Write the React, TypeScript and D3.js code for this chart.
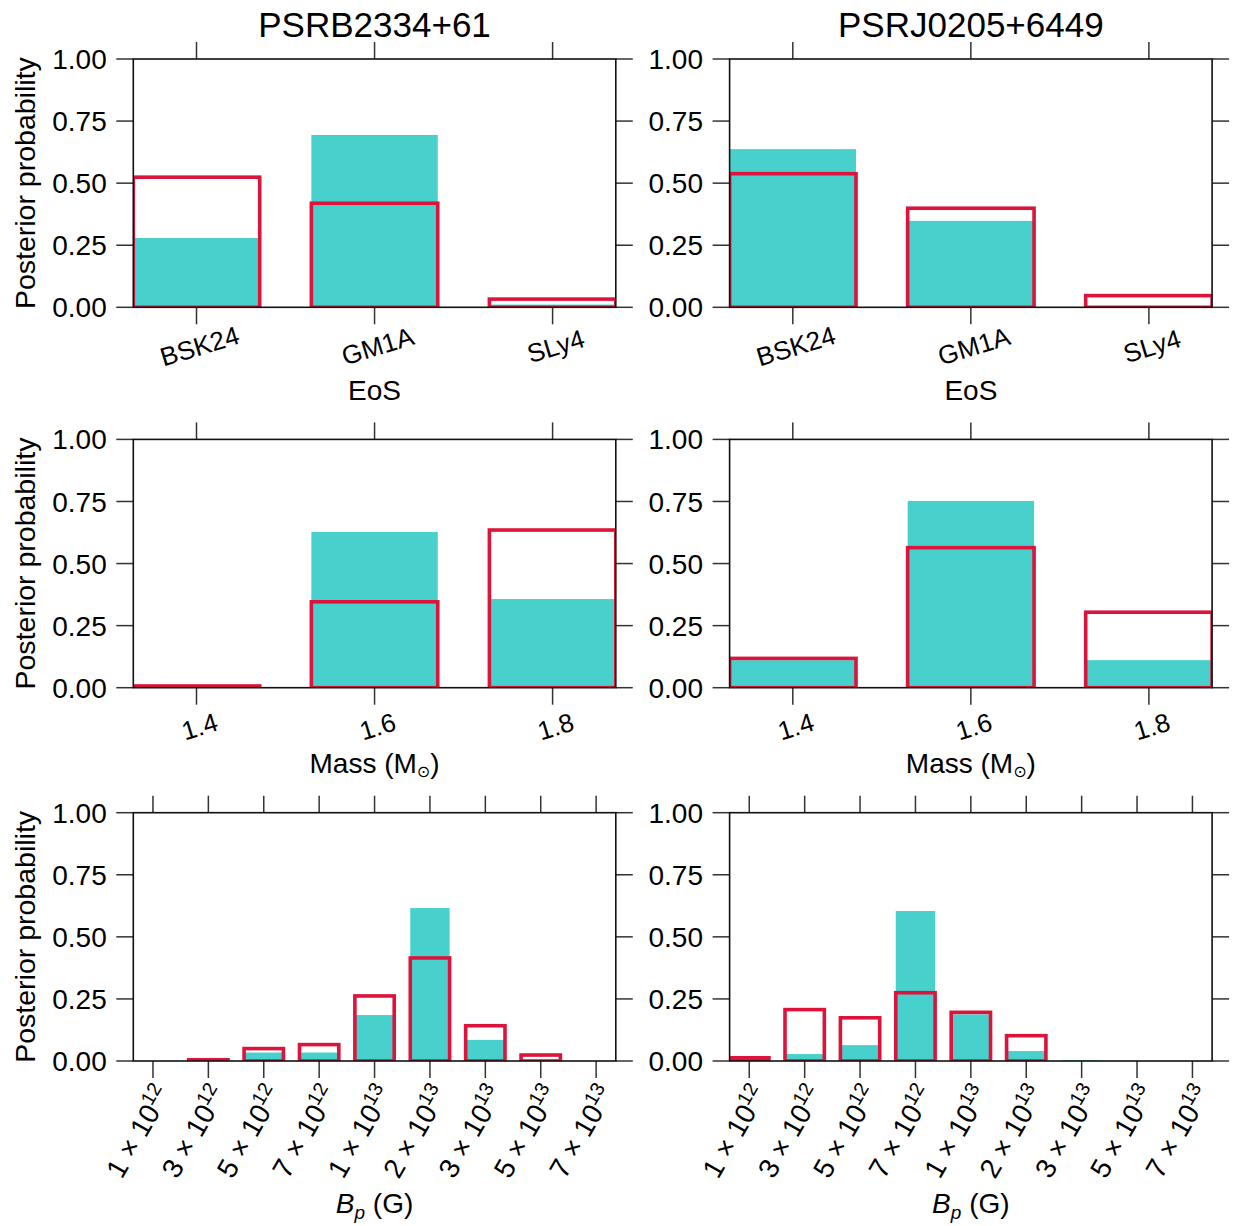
import React from 'react';
import * as d3 from 'd3';

// Posterior probabilities for two pulsars: filled bars and outlined bars per parameter bin
const pulsarNames = ['PSRB2334+61', 'PSRJ0205+6449'];

const eosCategories = ['BSK24', 'GM1A', 'SLy4'];
const massCategories = ['1.4', '1.6', '1.8'];
const bpMantissa = ['1', '3', '5', '7', '1', '2', '3', '5', '7'];
const bpExponent = ['12', '12', '12', '12', '13', '13', '13', '13', '13'];

const eosFilledB2334 = [0.279, 0.694, 0.011];
const eosOutlineB2334 = [0.524, 0.419, 0.033];
const eosFilledJ0205 = [0.637, 0.348, 0.002];
const eosOutlineJ0205 = [0.538, 0.399, 0.047];

const massFilledB2334 = [0.0, 0.627, 0.357];
const massOutlineB2334 = [0.007, 0.346, 0.635];
const massFilledJ0205 = [0.111, 0.752, 0.111];
const massOutlineJ0205 = [0.118, 0.564, 0.304];

const bpFilledB2334 = [0, 0.012, 0.034, 0.034, 0.185, 0.616, 0.085, 0.003, 0];
const bpOutlineB2334 = [0, 0.005, 0.05, 0.066, 0.262, 0.415, 0.142, 0.024, 0];
const bpFilledJ0205 = [0.002, 0.028, 0.064, 0.604, 0.188, 0.04, 0.003, 0, 0];
const bpOutlineJ0205 = [0.013, 0.207, 0.174, 0.275, 0.196, 0.102, 0, 0, 0];

const yTicks = [0, 0.25, 0.5, 0.75, 1];

const TEAL = '#48D1CC';
const CRIMSON = '#DC143C';
const FONT = '"Liberation Sans", Arial, Helvetica, sans-serif';

const WIDTH = 1233;
const HEIGHT = 1226;
const colX = [133.3, 729.6];
const rowY = [59, 439.4, 812.7];
const PW = 482.5;
const PH = 248.3;
const BAR_W = 0.71;
const TICK = 17;

type PanelProps = {
  row: number;
  col: number;
  n: number;
  filled: number[];
  outline: number[];
};

function TickLabel({ row, i, x }: { row: number; i: number; x: number }) {
  if (row === 0 || row === 1) {
    const label = row === 0 ? eosCategories[i] : massCategories[i];
    return (
      <text
        transform={`translate(${x + 3},${PH + 38.5}) rotate(-17)`}
        textAnchor="middle"
        dy="0.36em"
        fontSize={26}
      >
        {label}
      </text>
    );
  }
  return (
    <text
      transform={`translate(${x + 19},${PH + 32}) rotate(-60)`}
      textAnchor="end"
      fontSize={28}
    >
      {bpMantissa[i]} × 10
      <tspan fontSize={19.6} dy={-11}>
        {bpExponent[i]}
      </tspan>
    </text>
  );
}

function AxisLabel({ row }: { row: number }) {
  if (row === 0) {
    return (
      <text x={PW / 2} y={PH + 93} textAnchor="middle" fontSize={28}>
        EoS
      </text>
    );
  }
  if (row === 1) {
    return (
      <text x={PW / 2} y={PH + 85.5} textAnchor="middle" fontSize={28}>
        Mass (M
        <tspan fontSize={16} dy={4} fontFamily='"DejaVu Sans", sans-serif'>
          ⊙
        </tspan>
        <tspan dy={-4}>)</tspan>
      </text>
    );
  }
  return (
    <text x={PW / 2} y={PH + 152} textAnchor="middle" fontSize={28}>
      <tspan fontStyle="italic">B</tspan>
      <tspan fontStyle="italic" fontSize={19} dy={6}>
        p
      </tspan>
      <tspan dy={-6}> (G)</tspan>
    </text>
  );
}

function Panel({ row, col, n, filled, outline }: PanelProps) {
  const xs = d3
    .scaleLinear()
    .domain([1 - BAR_W / 2, n + BAR_W / 2])
    .range([0, PW]);
  const ys = d3.scaleLinear().domain([0, 1]).range([PH, 0]);
  const cats = d3.range(1, n + 1);
  const clipId = `clip-${row}-${col}`;

  return (
    <g transform={`translate(${colX[col]},${rowY[row]})`}>
      <defs>
        <clipPath id={clipId}>
          <rect x={0} y={0} width={PW} height={PH} />
        </clipPath>
      </defs>
      <g clipPath={`url(#${clipId})`}>
        {filled.map((v, i) =>
          v > 0 ? (
            <rect
              key={`f${i}`}
              x={xs(cats[i] - BAR_W / 2)}
              width={xs(cats[i] + BAR_W / 2) - xs(cats[i] - BAR_W / 2)}
              y={ys(v)}
              height={ys(0) - ys(v)}
              fill={TEAL}
            />
          ) : null
        )}
        {outline.map((v, i) =>
          v > 0 ? (
            <rect
              key={`o${i}`}
              x={xs(cats[i] - BAR_W / 2)}
              width={xs(cats[i] + BAR_W / 2) - xs(cats[i] - BAR_W / 2)}
              y={ys(v)}
              height={ys(0) - ys(v)}
              fill="none"
              stroke={CRIMSON}
              strokeWidth={3.6}
            />
          ) : null
        )}
      </g>
      {/* ticks on all four sides, pointing outward */}
      <g stroke="#333" strokeWidth={1.5}>
        {yTicks.map((t) => (
          <g key={`yt${t}`}>
            <line x1={-TICK} x2={0} y1={ys(t)} y2={ys(t)} />
            <line x1={PW} x2={PW + TICK} y1={ys(t)} y2={ys(t)} />
          </g>
        ))}
        {cats.map((c) => (
          <g key={`xt${c}`}>
            <line x1={xs(c)} x2={xs(c)} y1={PH} y2={PH + TICK} />
            <line x1={xs(c)} x2={xs(c)} y1={0} y2={-TICK} />
          </g>
        ))}
      </g>
      <rect x={0} y={0} width={PW} height={PH} fill="none" stroke="#111" strokeWidth={1.6} />
      {yTicks.map((t) => (
        <text
          key={`yl${t}`}
          x={-26.6}
          y={ys(t)}
          dy="0.36em"
          textAnchor="end"
          fontSize={28}
        >
          {t.toFixed(2)}
        </text>
      ))}
      {cats.map((c, i) => (
        <TickLabel key={`tl${c}`} row={row} i={i} x={xs(c)} />
      ))}
      <AxisLabel row={row} />
      {col === 0 ? (
        <text
          transform={`translate(${35 - colX[0]},${PH / 2}) rotate(-90)`}
          textAnchor="middle"
          fontSize={28.5}
        >
          Posterior probability
        </text>
      ) : null}
      {row === 0 ? (
        <text x={PW / 2} y={-22} textAnchor="middle" fontSize={35}>
          {pulsarNames[col]}
        </text>
      ) : null}
    </g>
  );
}

export default function App() {
  return (
    <svg
      width={WIDTH}
      height={HEIGHT}
      viewBox={`0 0 ${WIDTH} ${HEIGHT}`}
      style={{ position: 'absolute', left: 0, top: 0, background: '#fff' }}
      fontFamily={FONT}
      fill="#000"
    >
      <rect width={WIDTH} height={HEIGHT} fill="#fff" />
      <Panel row={0} col={0} n={3} filled={eosFilledB2334} outline={eosOutlineB2334} />
      <Panel row={0} col={1} n={3} filled={eosFilledJ0205} outline={eosOutlineJ0205} />
      <Panel row={1} col={0} n={3} filled={massFilledB2334} outline={massOutlineB2334} />
      <Panel row={1} col={1} n={3} filled={massFilledJ0205} outline={massOutlineJ0205} />
      <Panel row={2} col={0} n={9} filled={bpFilledB2334} outline={bpOutlineB2334} />
      <Panel row={2} col={1} n={9} filled={bpFilledJ0205} outline={bpOutlineJ0205} />
    </svg>
  );
}
